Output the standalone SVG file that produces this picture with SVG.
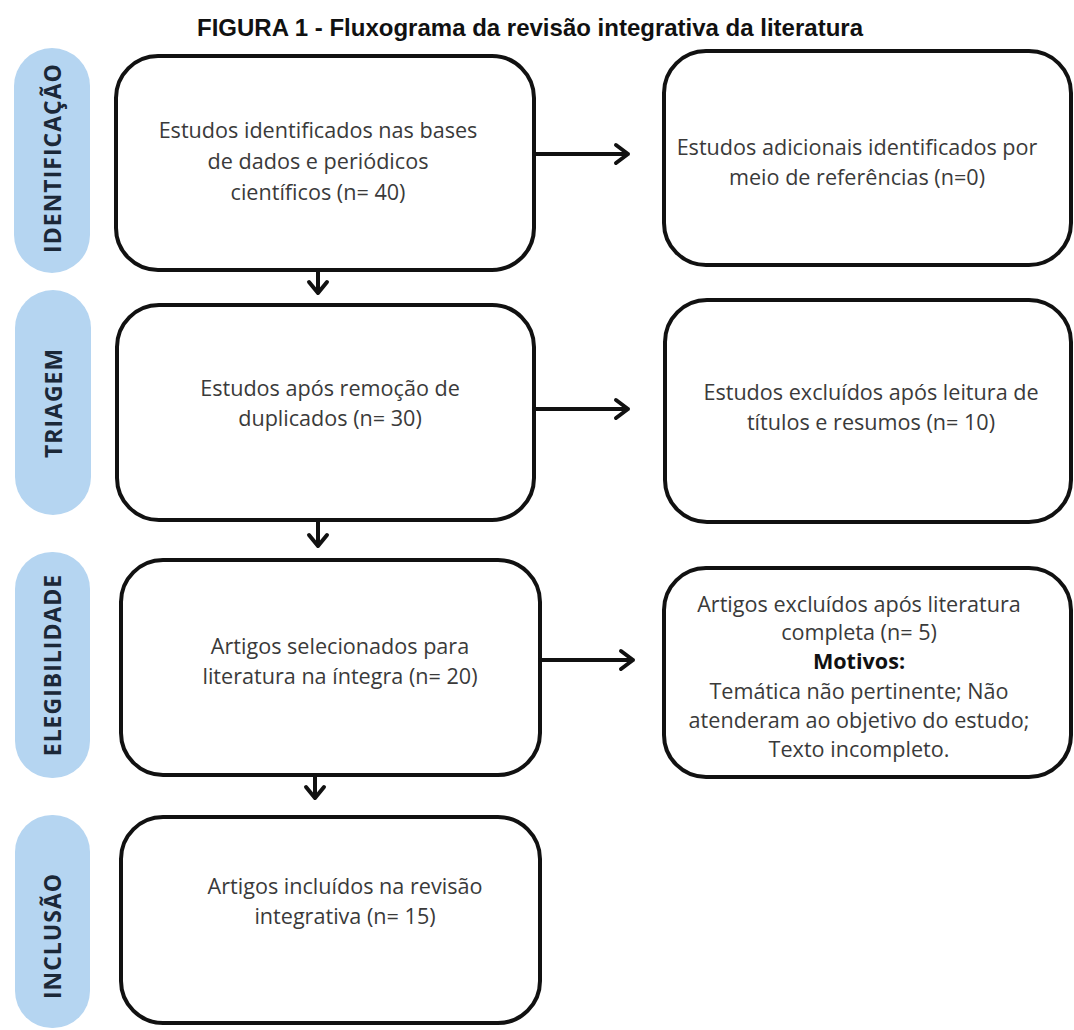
<svg xmlns="http://www.w3.org/2000/svg" width="1074" height="1030" viewBox="0 0 1074 1030">
<defs>
<style>
.title{font-family:"Liberation Sans",Arial,sans-serif;font-weight:bold;font-size:24px;fill:#111;text-anchor:middle}
.pill{fill:#b5d5f1}
.plabel{font-family:"Open Sans","Noto Sans",sans-serif;font-weight:bold;font-size:23px;letter-spacing:1px;fill:#1b2838;text-anchor:middle}
.box{fill:#fff;stroke:#111;stroke-width:4}
.t{font-family:"Open Sans","Noto Sans",sans-serif;font-size:21.6px;fill:#3a3a3a;text-anchor:middle}
.b{font-weight:bold;fill:#111}
.conn{fill:none;stroke:#111;stroke-width:4;stroke-linecap:round;stroke-linejoin:round}
</style>
</defs>
<rect width="1074" height="1030" fill="#fff"/>
<text class="title" x="530" y="36">FIGURA 1 - Fluxograma da revisão integrativa da literatura</text>

<g id="phase-identificacao"><rect class="pill" x="14" y="48" width="76" height="225" rx="38"/><text class="plabel" transform="translate(61,158) rotate(-90)">IDENTIFICAÇÃO</text></g>
<g id="phase-triagem"><rect class="pill" x="15" y="290" width="76" height="225" rx="38"/><text class="plabel" transform="translate(62,403) rotate(-90)">TRIAGEM</text></g>
<g id="phase-elegibilidade"><rect class="pill" x="15" y="552" width="75" height="226" rx="37"/><text class="plabel" transform="translate(61,665) rotate(-90)">ELEGIBILIDADE</text></g>
<g id="phase-inclusao"><rect class="pill" x="15" y="815" width="75" height="213" rx="37"/><text class="plabel" transform="translate(61,936) rotate(-90)">INCLUSÃO</text></g>

<g id="n1"><rect class="box" x="116" y="56" width="418" height="214" rx="42"/>
<text class="t"><tspan x="318" y="138">Estudos identificados nas bases</tspan><tspan x="318" y="169">de dados e periódicos</tspan><tspan x="318" y="200">científicos (n= 40)</tspan></text></g>
<g id="n1r"><rect class="box" x="664" y="51" width="407" height="214" rx="42"/>
<text class="t"><tspan x="857" y="155">Estudos adicionais identificados por</tspan><tspan x="857" y="185">meio de referências (n=0)</tspan></text></g>

<g id="n2"><rect class="box" x="117" y="305" width="417" height="215" rx="42"/>
<text class="t"><tspan x="330" y="396">Estudos após remoção de</tspan><tspan x="330" y="426">duplicados (n= 30)</tspan></text></g>
<g id="n2r"><rect class="box" x="665" y="300" width="406" height="222" rx="42"/>
<text class="t"><tspan x="871" y="400">Estudos excluídos após leitura de</tspan><tspan x="871" y="430">títulos e resumos (n= 10)</tspan></text></g>

<g id="n3"><rect class="box" x="121" y="560" width="419" height="215" rx="42"/>
<text class="t"><tspan x="340" y="654">Artigos selecionados para</tspan><tspan x="340" y="684">literatura na íntegra (n= 20)</tspan></text></g>
<g id="n3r"><rect class="box" x="664" y="568" width="407" height="209" rx="42"/>
<text class="t"><tspan x="859" y="612">Artigos excluídos após literatura</tspan><tspan x="859" y="640">completa (n= 5)</tspan><tspan x="859" y="669" class="b">Motivos:</tspan><tspan x="859" y="699">Temática não pertinente; Não</tspan><tspan x="859" y="728">atenderam ao objetivo do estudo;</tspan><tspan x="859" y="757">Texto incompleto.</tspan></text></g>

<g id="n4"><rect class="box" x="121" y="817" width="419" height="206" rx="42"/>
<text class="t"><tspan x="345" y="894">Artigos incluídos na revisão</tspan><tspan x="345" y="924">integrativa (n= 15)</tspan></text></g>

<g id="connectors">
<path class="conn" d="M534 154H628M616 145L628 154L616 163"/>
<path class="conn" d="M534 409H628M616 400L628 409L616 418"/>
<path class="conn" d="M540 660H633M621 651L633 660L621 669"/>
<path class="conn" d="M318 270V293M309 282L318 293L327 282"/>
<path class="conn" d="M318 520V546M309 535L318 546L327 535"/>
<path class="conn" d="M315 775V798M306 787L315 798L324 787"/>
</g>
</svg>
